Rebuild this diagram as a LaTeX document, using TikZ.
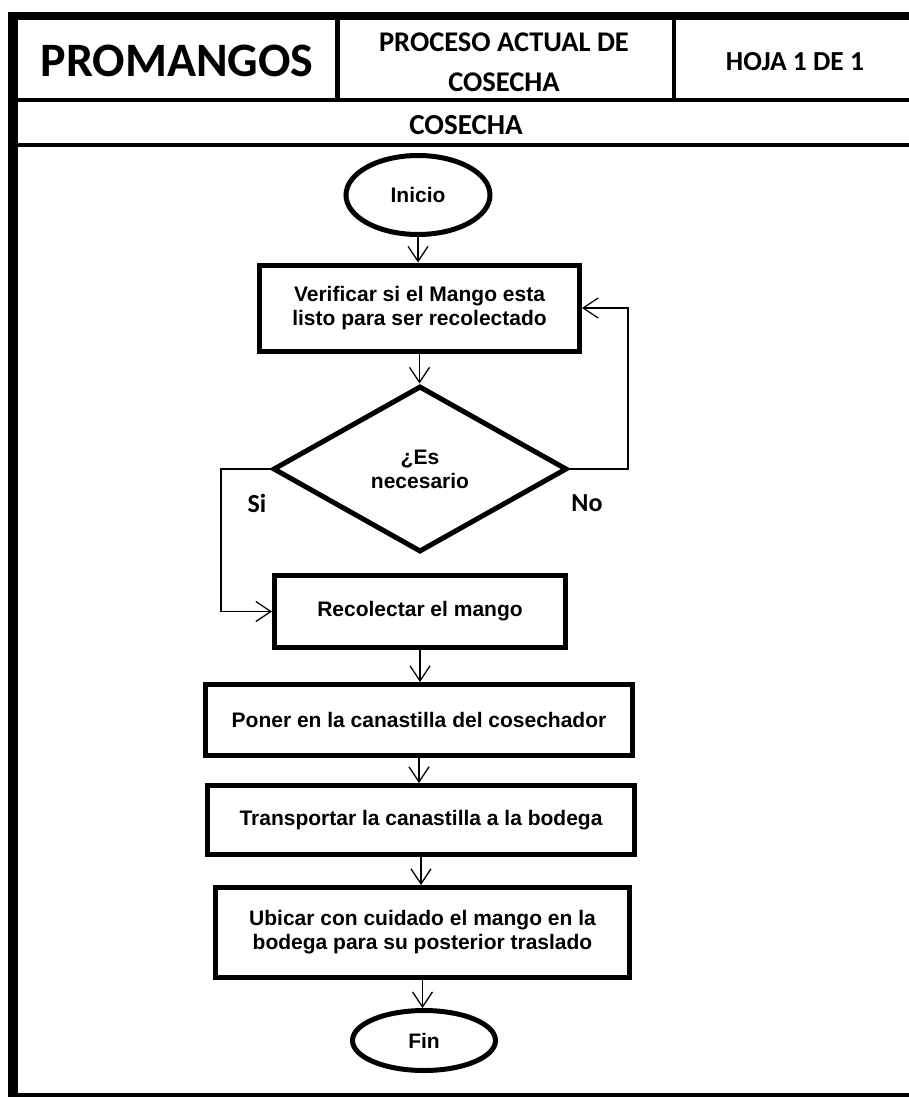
\documentclass[tikz,border=0pt]{standalone}
\usepackage{fontspec}
\setmainfont{Liberation Sans}
\newfontfamily\hdrfont{Carlito}
\usetikzlibrary{shapes.geometric,arrows.meta}
\newcommand\flowfont{\bfseries\fontsize{21}{24}\selectfont}
\begin{document}
\begin{tikzpicture}[x=1pt,y=-1pt,
  box/.style={draw, line width=5pt, rectangle, inner sep=0pt, align=center, font=\flowfont},
  term/.style={draw, ellipse, line width=5pt, inner sep=0pt, font=\flowfont},
  decision/.style={draw, diamond, line width=5pt, inner sep=0pt, align=center, font=\flowfont},
  arr/.style={line width=1.3pt, -{Straight Barb[length=15pt,width=20pt]}},
  hdr/.style={font=\hdrfont\bfseries\fontsize{#1}{40}\selectfont, inner sep=0pt, align=center},
  lbl/.style={font=\hdrfont\bfseries\fontsize{26}{28}\selectfont, inner sep=0pt}
]
\fill[white] (0,0) rectangle (909,1097);
\clip (0,0) rectangle (909,1097);

% sheet frame and title block
\draw[line width=8pt] (8,16) -- (920,16);
\draw[line width=10pt] (13,12) -- (13,1105);
\draw[line width=5pt] (8,1095) -- (920,1095);
\draw[line width=4pt] (18,100) -- (920,100);
\draw[line width=4.5pt] (18,145) -- (920,145);
\draw[line width=5pt] (337.5,20) -- (337.5,100);
\draw[line width=4pt] (673.5,20) -- (673.5,100);

\node[hdr=48] (company) at (177,61) {PROMANGOS};
\node[hdr=28.5] (process) at (504,62) {PROCESO ACTUAL DE\\COSECHA};
\node[hdr=27.5] (sheet) at (795,62) {HOJA 1 DE 1};
\node[hdr=29] (stage) at (466,125) {COSECHA};

% flowchart
\node[term, minimum width=144, minimum height=79] (start) at (418,195) {Inicio};
\node[box, minimum width=320, minimum height=86] (check) at (419.5,308)
  {Verificar si el Mango esta\\listo para ser recolectado};
\node[decision, minimum width=294, minimum height=166] (need) at (420,469)
  {¿Es\\necesario};
\node[box, minimum width=291, minimum height=72] (pick) at (420,611.5) {Recolectar el mango};
\node[box, minimum width=427, minimum height=71] (basket) at (419,720)
  {Poner en la canastilla del cosechador};
\node[box, minimum width=427, minimum height=69] (carry) at (421,820)
  {Transportar la canastilla a la bodega};
\node[box, minimum width=414, minimum height=90] (store) at (422.5,932.5)
  {Ubicar con cuidado el mango en la\\bodega para su posterior traslado};
\node[term, minimum width=143, minimum height=60] (finish) at (424,1040.5) {Fin};

\node[lbl] (yes) at (257,503) {Si};
\node[lbl] (no) at (587,503) {No};

\coordinate (yesTurn) at (221,469);
\coordinate (noTurn) at (628,308);

\draw[arr] (start.south) -- (start.south |- check.north);
\draw[arr] (check.south) -- (check.south |- need.north);
\draw[arr] (need.west) -- (yesTurn) |- (pick.west);
\draw[arr] (need.east) -| (noTurn) -- (check.east);
\draw[arr] (pick.south) -- (pick.south |- basket.north);
\draw[arr] (basket.south) -- (basket.south |- carry.north);
\draw[arr] (carry.south) -- (carry.south |- store.north);
\draw[arr] (store.south) -- (store.south |- finish.north);
\end{tikzpicture}
\end{document}
